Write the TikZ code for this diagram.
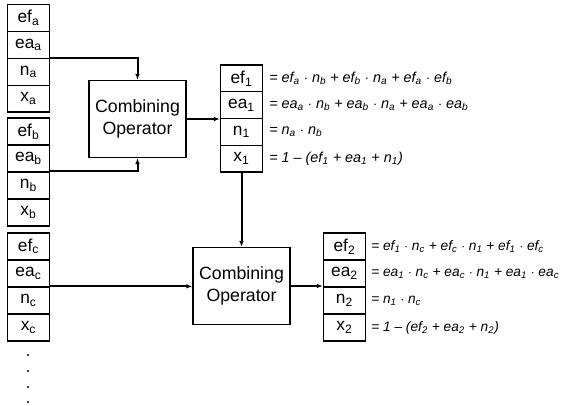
\documentclass[tikz,border=0pt]{standalone}
\usepackage{fontspec}
\setmainfont{Liberation Sans}
\usetikzlibrary{arrows.meta}

\tikzset{
  cell/.style={draw, line width=1pt, minimum width=31.5pt, minimum height=20pt,
    inner sep=0pt, font=\fontsize{13}{15}\selectfont},
  operator/.style={draw, line width=1pt, minimum width=72.75pt, minimum height=57.75pt,
    align=center, inner sep=0pt, font=\fontsize{13.3}{16.5}\selectfont},
  eqn/.style={anchor=west, inner sep=0pt, font=\fontsize{10.8}{13}\selectfont\itshape},
  eqnright/.style={eqn, font=\fontsize{10.3}{12}\selectfont\itshape},
  flow/.style={line width=1.5pt, -{Latex[length=4.5pt,width=3.5pt]}}
}

\begin{document}
\begin{tikzpicture}[x=0.75pt, y=-0.75pt]
    \useasboundingbox (0,0) rectangle (565,406);

    % input and result vectors
    \foreach \col/\cx/\top/\h in {a/28.5/4.5/26.9, b/28.5/118/27, c/28.5/233/27, 1/241.5/65/26.75, 2/344.5/233/27} {
        \foreach \lab [count=\k from 0] in {ef,ea,n,x} {
            \node[cell, minimum height=\h*0.75pt] (\lab\col) at (\cx,{\top+\h/2+\h*\k}) {\lab\textsubscript{\col}};
        }
    }

    % more inputs
    \foreach \y in {355,371,387,402} {
        \fill (28,\y) circle (0.9pt);
    }

    % operators
    \node[operator] (op1) at (137.5,119) {Combining\\Operator};
    \node[operator] (op2) at (241.5,286) {Combining\\Operator};

    % connectors
    \draw[flow] (na.north east) -| (op1.north);
    \draw[flow] (nb.north east) -| (op1.south);
    \draw[flow] (op1.east) -- (op1.east -| n1.west);
    \draw[flow] (x1.south) -- (x1.south |- op2.north);
    \draw[flow] (nc.north east) -- (nc.north east -| op2.west);
    \draw[flow] (op2.east) -- (op2.east -| n2.west);

    % first combination
    \node[eqn] (eqef1) at (269,78.4) {= ef\textsubscript{a} $\cdot$ n\textsubscript{b} + ef\textsubscript{b} $\cdot$ n\textsubscript{a} + ef\textsubscript{a} $\cdot$ ef\textsubscript{b}};
    \node[eqn] (eqea1) at (269,105.1) {= ea\textsubscript{a} $\cdot$ n\textsubscript{b} + ea\textsubscript{b} $\cdot$ n\textsubscript{a} + ea\textsubscript{a} $\cdot$ ea\textsubscript{b}};
    \node[eqn] (eqn1) at (269,131.9) {= n\textsubscript{a} $\cdot$ n\textsubscript{b}};
    \node[eqn] (eqx1) at (269,158.6) {= 1 -- (ef\textsubscript{1} + ea\textsubscript{1} + n\textsubscript{1})};

    % second combination
    \node[eqnright] (eqef2) at (371,246.5) {= ef\textsubscript{1} $\cdot$ n\textsubscript{c} + ef\textsubscript{c} $\cdot$ n\textsubscript{1} + ef\textsubscript{1} $\cdot$ ef\textsubscript{c}};
    \node[eqnright] (eqea2) at (371,273.5) {= ea\textsubscript{1} $\cdot$ n\textsubscript{c} + ea\textsubscript{c} $\cdot$ n\textsubscript{1} + ea\textsubscript{1} $\cdot$ ea\textsubscript{c}};
    \node[eqnright] (eqn2) at (371,300.5) {= n\textsubscript{1} $\cdot$ n\textsubscript{c}};
    \node[eqnright] (eqx2) at (371,327.5) {= 1 -- (ef\textsubscript{2} + ea\textsubscript{2} + n\textsubscript{2})};
\end{tikzpicture}
\end{document}
